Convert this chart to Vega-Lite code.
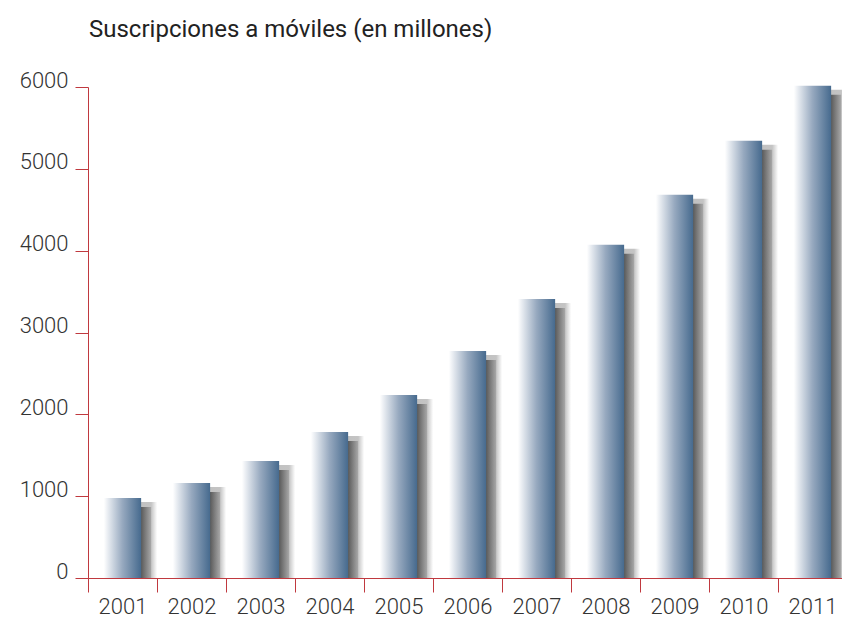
{
  "$schema": "https://vega.github.io/schema/vega-lite/v6.json",
  "autosize": {"type": "none"},
  "padding": {"left": 88, "top": 87, "right": 0, "bottom": 39},
  "width": 754,
  "height": 491,
  "background": "white",
  "config": {"view": {"stroke": null}},
  "title": {
    "text": "Suscripciones a móviles (en millones)",
    "anchor": "start",
    "frame": "group",
    "font": "Roboto",
    "fontWeight": 400,
    "fontSize": 24,
    "color": "#222222",
    "offset": 27,
    "dx": 1
  },
  "data": {
    "values": [
      {"year": "2001", "subs": 978},
      {"year": "2002", "subs": 1161},
      {"year": "2003", "subs": 1430},
      {"year": "2004", "subs": 1785},
      {"year": "2005", "subs": 2237},
      {"year": "2006", "subs": 2775},
      {"year": "2007", "subs": 3410},
      {"year": "2008", "subs": 4071},
      {"year": "2009", "subs": 4682},
      {"year": "2010", "subs": 5342},
      {"year": "2011", "subs": 6015}
    ]
  },
  "encoding": {
    "x": {
      "field": "year",
      "type": "nominal",
      "scale": {"range": [0, 759], "paddingInner": 0.46, "paddingOuter": 0.23},
      "axis": {
        "title": null,
        "labelAngle": 0,
        "domainColor": "#c0393f",
        "tickColor": "#c0393f",
        "tickOffset": -34.5,
        "labelOffset": 34.5,
        "tickSize": 14,
        "labelPadding": 4,
        "labelFont": "Roboto",
        "labelFontWeight": 300,
        "labelFontSize": 22,
        "labelColor": "#333333"
      }
    },
    "y": {
      "field": "subs",
      "type": "quantitative",
      "scale": {"domain": [0, 6000]},
      "axis": {
        "title": null,
        "values": [0, 1000, 2000, 3000, 4000, 5000, 6000],
        "format": "d",
        "grid": false,
        "domainColor": "#c0393f",
        "tickColor": "#c0393f",
        "tickSize": 13,
        "labelPadding": 7,
        "labelBaseline": "alphabetic",
        "labelFont": "Roboto",
        "labelFontWeight": 300,
        "labelFontSize": 22,
        "labelColor": "#333333"
      }
    }
  },
  "layer": [
    {
      "mark": {
        "type": "bar",
        "clip": true,
        "xOffset": 16,
        "x2Offset": 16,
        "yOffset": 4,
        "color": {
          "gradient": "linear",
          "stops": [
            {"offset": 0, "color": "#bbbbbb"},
            {"offset": 0.84, "color": "#c4c4c4"},
            {"offset": 1, "color": "#ffffff"}
          ]
        }
      }
    },
    {
      "mark": {
        "type": "bar",
        "clip": true,
        "xOffset": 10,
        "x2Offset": 10,
        "yOffset": 9,
        "color": {
          "gradient": "linear",
          "stops": [
            {"offset": 0, "color": "#555555"},
            {"offset": 0.73, "color": "#5a5a5a"},
            {"offset": 1, "color": "#a8a8a8"}
          ]
        }
      }
    },
    {
      "mark": {
        "type": "bar",
        "color": {
          "gradient": "linear",
          "stops": [
            {"offset": 0, "color": "#ffffff"},
            {"offset": 0.08, "color": "#eef1f5"},
            {"offset": 0.5, "color": "#97a9bf"},
            {"offset": 1, "color": "#466a8e"}
          ]
        }
      }
    }
  ]
}
